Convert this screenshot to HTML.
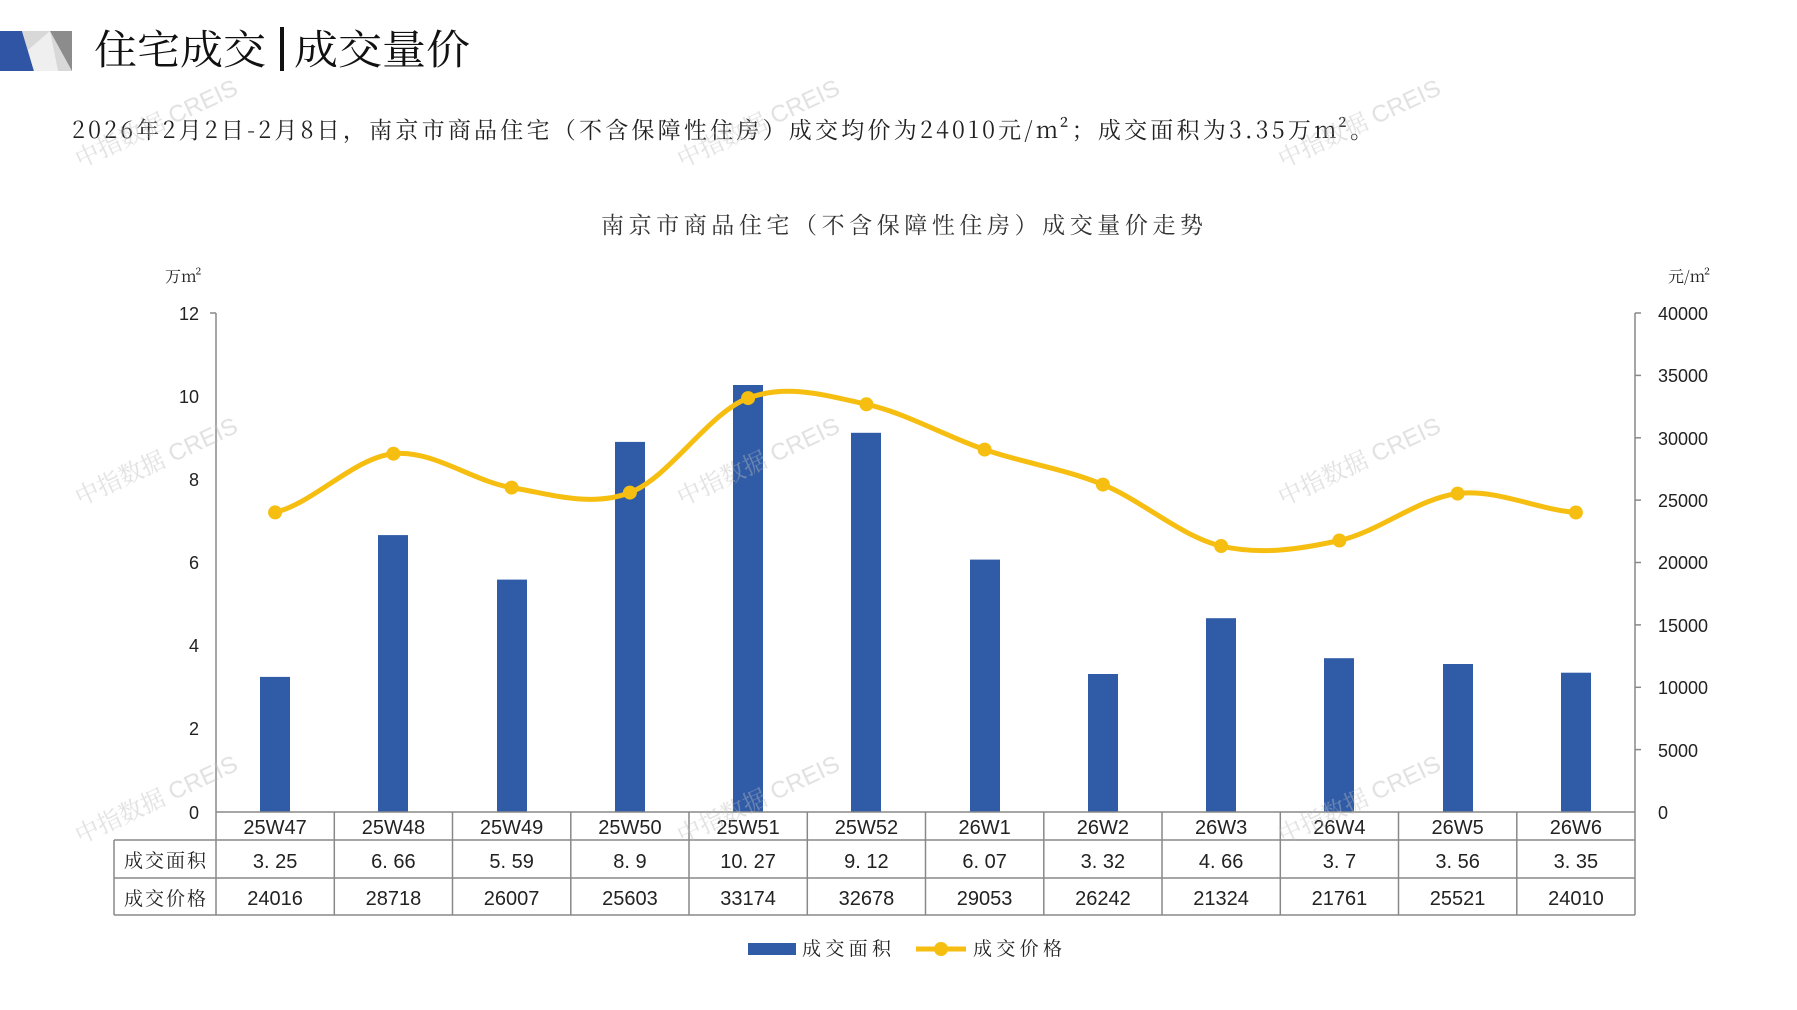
<!DOCTYPE html>
<html><head><meta charset="utf-8"><style>
html,body{margin:0;padding:0;background:#fff;width:1797px;height:1010px;overflow:hidden}
svg text{font-family:"Liberation Sans","Noto Serif CJK SC",serif}
.cn{font-family:"Noto Serif CJK SC","Noto Sans CJK SC",serif}
.num{font-family:"DejaVu Sans Condensed","Liberation Sans Narrow","Liberation Sans",sans-serif}
</style></head><body>
<svg width="1797" height="1010" viewBox="0 0 1797 1010" xmlns="http://www.w3.org/2000/svg">
<polygon points="0,31 22,31 34,71 0,71" fill="#2f55a4"/>
<polygon points="22,31 72,31 72,71 34,71" fill="#d8d8d8"/>
<polygon points="50,31 72,31 72,71" fill="#8c8c8c"/>
<polygon points="28,50 50,31 58,71 34,71" fill="#efefef"/>
<text x="94" y="64" font-size="41" class="cn" fill="#111" textLength="172" lengthAdjust="spacingAndGlyphs">住宅成交</text>
<rect x="280" y="27" width="4" height="44" fill="#111"/>
<text x="294" y="64" font-size="41" class="cn" fill="#111" textLength="176" lengthAdjust="spacingAndGlyphs">成交量价</text>
<text x="72" y="138" font-size="23" class="cn" fill="#222" textLength="1301" lengthAdjust="spacing">2026年2月2日-2月8日，南京市商品住宅（不含保障性住房）成交均价为24010元/m²；成交面积为3.35万m²。</text>
<text x="601" y="233" font-size="23" class="cn" fill="#333" textLength="602" lengthAdjust="spacing">南京市商品住宅（不含保障性住房）成交量价走势</text>
<text x="165" y="282" font-size="16" class="cn" fill="#222">万m²</text>
<text x="1668" y="282" font-size="16" class="cn" fill="#222">元/m²</text>
<g stroke="#888" stroke-width="1.5" fill="none">
<line x1="216" y1="313" x2="216" y2="812"/>
<line x1="1635" y1="313" x2="1635" y2="812"/>
<line x1="210" y1="313" x2="216" y2="313"/>
<line x1="1635" y1="313" x2="1641" y2="313"/><line x1="1635" y1="375.4" x2="1641" y2="375.4"/><line x1="1635" y1="437.8" x2="1641" y2="437.8"/><line x1="1635" y1="500.1" x2="1641" y2="500.1"/><line x1="1635" y1="562.5" x2="1641" y2="562.5"/><line x1="1635" y1="624.9" x2="1641" y2="624.9"/><line x1="1635" y1="687.3" x2="1641" y2="687.3"/><line x1="1635" y1="749.6" x2="1641" y2="749.6"/>
</g>
<g font-size="18" fill="#222" text-anchor="end">
<text x="199" y="320">12</text><text x="199" y="403">10</text><text x="199" y="486">8</text><text x="199" y="569">6</text><text x="199" y="652">4</text><text x="199" y="735">2</text><text x="199" y="819">0</text>
</g>
<g font-size="18" fill="#222">
<text x="1658" y="320">40000</text><text x="1658" y="382">35000</text><text x="1658" y="445">30000</text><text x="1658" y="507">25000</text><text x="1658" y="569">20000</text><text x="1658" y="632">15000</text><text x="1658" y="694">10000</text><text x="1658" y="757">5000</text><text x="1658" y="819">0</text>
</g>
<g fill="#2f5ba7">
<rect x="260" y="676.9" width="30" height="135.1"/>
<rect x="378" y="535.1" width="30" height="276.9"/>
<rect x="497" y="579.6" width="30" height="232.4"/>
<rect x="615" y="441.9" width="30" height="370.1"/>
<rect x="733" y="385" width="30" height="427"/>
<rect x="851" y="432.8" width="30" height="379.2"/>
<rect x="970" y="559.6" width="30" height="252.4"/>
<rect x="1088" y="674" width="30" height="138"/>
<rect x="1206" y="618.2" width="30" height="193.8"/>
<rect x="1324" y="658.2" width="30" height="153.8"/>
<rect x="1443" y="664" width="30" height="148"/>
<rect x="1561" y="672.7" width="30" height="139.3"/>
</g>
<path fill="none" stroke="#f5be10" stroke-width="5" d="M275.1,512.4 C314.5,502.6 354,457.8 393.4,453.7 C432.8,449.6 472.2,481.1 511.6,487.6 C551,494.1 590.5,507.5 629.9,492.6 C669.3,477.7 708.7,412.8 748.1,398.1 C787.5,383.4 827,395.7 866.4,404.3 C905.8,412.9 945.2,436.2 984.6,449.6 C1024,463 1063.5,468.5 1102.9,484.6 C1142.3,500.7 1181.7,536.7 1221.1,546 C1260.5,555.3 1300,549.2 1339.4,540.5 C1378.8,531.8 1418.2,498.3 1457.6,493.6 C1497,488.9 1536.5,509.3 1575.9,512.5"/>
<g fill="#f5be10">
<circle cx="275.1" cy="512.4" r="7"/><circle cx="393.4" cy="453.7" r="7"/><circle cx="511.6" cy="487.6" r="7"/><circle cx="629.9" cy="492.6" r="7"/><circle cx="748.1" cy="398.1" r="7"/><circle cx="866.4" cy="404.3" r="7"/><circle cx="984.6" cy="449.6" r="7"/><circle cx="1102.9" cy="484.6" r="7"/><circle cx="1221.1" cy="546" r="7"/><circle cx="1339.4" cy="540.5" r="7"/><circle cx="1457.6" cy="493.6" r="7"/><circle cx="1575.9" cy="512.5" r="7"/>
</g>
<g stroke="#888" stroke-width="1.5" fill="none">
<line x1="216" y1="812" x2="1635" y2="812"/>
<line x1="114" y1="840" x2="1635" y2="840"/>
<line x1="114" y1="878" x2="1635" y2="878"/>
<line x1="114" y1="915" x2="1635" y2="915"/>
<line x1="114" y1="840" x2="114" y2="915"/>
<line x1="216" y1="812" x2="216" y2="915"/><line x1="334.3" y1="812" x2="334.3" y2="915"/><line x1="452.5" y1="812" x2="452.5" y2="915"/><line x1="570.8" y1="812" x2="570.8" y2="915"/><line x1="689" y1="812" x2="689" y2="915"/><line x1="807.3" y1="812" x2="807.3" y2="915"/><line x1="925.5" y1="812" x2="925.5" y2="915"/><line x1="1043.8" y1="812" x2="1043.8" y2="915"/><line x1="1162" y1="812" x2="1162" y2="915"/><line x1="1280.3" y1="812" x2="1280.3" y2="915"/><line x1="1398.5" y1="812" x2="1398.5" y2="915"/><line x1="1516.8" y1="812" x2="1516.8" y2="915"/><line x1="1635" y1="812" x2="1635" y2="915"/>
</g>
<g font-size="20" fill="#222" text-anchor="middle" class="num">
<text x="275.1" y="834">25W47</text><text x="393.4" y="834">25W48</text><text x="511.6" y="834">25W49</text><text x="629.9" y="834">25W50</text><text x="748.1" y="834">25W51</text><text x="866.4" y="834">25W52</text><text x="984.6" y="834">26W1</text><text x="1102.9" y="834">26W2</text><text x="1221.1" y="834">26W3</text><text x="1339.4" y="834">26W4</text><text x="1457.6" y="834">26W5</text><text x="1575.9" y="834">26W6</text>
<text x="275.1" y="868">3. 25</text><text x="393.4" y="868">6. 66</text><text x="511.6" y="868">5. 59</text><text x="629.9" y="868">8. 9</text><text x="748.1" y="868">10. 27</text><text x="866.4" y="868">9. 12</text><text x="984.6" y="868">6. 07</text><text x="1102.9" y="868">3. 32</text><text x="1221.1" y="868">4. 66</text><text x="1339.4" y="868">3. 7</text><text x="1457.6" y="868">3. 56</text><text x="1575.9" y="868">3. 35</text>
<text x="275.1" y="905">24016</text><text x="393.4" y="905">28718</text><text x="511.6" y="905">26007</text><text x="629.9" y="905">25603</text><text x="748.1" y="905">33174</text><text x="866.4" y="905">32678</text><text x="984.6" y="905">29053</text><text x="1102.9" y="905">26242</text><text x="1221.1" y="905">21324</text><text x="1339.4" y="905">21761</text><text x="1457.6" y="905">25521</text><text x="1575.9" y="905">24010</text>
</g>
<g font-size="19" fill="#222" class="cn" text-anchor="middle" letter-spacing="2">
<text x="166" y="867">成交面积</text><text x="166" y="905">成交价格</text>
</g>
<rect x="748" y="943" width="48" height="12" fill="#2f5ba7"/>
<text x="802" y="955" font-size="19" class="cn" fill="#222" textLength="89" lengthAdjust="spacing">成交面积</text>
<line x1="916" y1="949" x2="966" y2="949" stroke="#f5be10" stroke-width="5"/>
<circle cx="941" cy="949" r="7" fill="#f5be10"/>
<text x="973" y="955" font-size="19" class="cn" fill="#222" textLength="89" lengthAdjust="spacing">成交价格</text>
<g font-size="24" fill="#bbb" opacity="0.45" font-family="Liberation Sans, Noto Sans CJK SC, sans-serif">
<text transform="translate(80,168) rotate(-25)">中指数据 CREIS</text>
<text transform="translate(682,168) rotate(-25)">中指数据 CREIS</text>
<text transform="translate(1283,168) rotate(-25)">中指数据 CREIS</text>
<text transform="translate(80,506) rotate(-25)">中指数据 CREIS</text>
<text transform="translate(682,506) rotate(-25)">中指数据 CREIS</text>
<text transform="translate(1283,506) rotate(-25)">中指数据 CREIS</text>
<text transform="translate(80,844) rotate(-25)">中指数据 CREIS</text>
<text transform="translate(682,844) rotate(-25)">中指数据 CREIS</text>
<text transform="translate(1283,844) rotate(-25)">中指数据 CREIS</text>
</g>
</svg>
</body></html>
